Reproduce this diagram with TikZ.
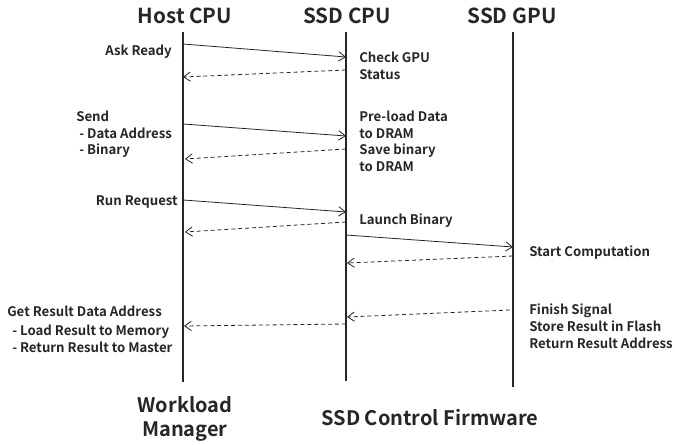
\documentclass[tikz,border=0pt]{standalone}
\usepackage{fontspec}
\setmainfont{Noto Sans CJK KR}[BoldFont={* Bold}]
\usetikzlibrary{arrows.meta}
\begin{document}
\begin{tikzpicture}[x=0.75pt,y=-0.75pt,
  lifeline/.style={line width=1.4pt,draw=black!85},
  call/.style={draw=black!85,line width=0.6pt,-{Straight Barb[length=5pt,width=7pt]}},
  reply/.style={call,dash pattern=on 3pt off 2.2pt},
  title/.style={font=\fontsize{15.5}{18}\selectfont\bfseries,text=black!85},
  note/.style={font=\fontsize{9.9}{12.4}\selectfont\bfseries,text=black!85,inner sep=0pt,align=left},
  footer/.style={font=\fontsize{15}{18}\selectfont\bfseries,text=black!85,align=center}]
\useasboundingbox (0,0) rectangle (675,445);

% participants
\node[title] (host) at (185,16) {Host CPU};
\node[title] (scpu) at (347,16) {SSD CPU};
\node[title] (sgpu) at (512,16) {SSD GPU};

% lifelines
\coordinate (hT) at (183,32);  \coordinate (hB) at (183,382);
\coordinate (cT) at (346,32);  \coordinate (cB) at (346,381);
\coordinate (gT) at (513,32);  \coordinate (gB) at (513,387);
\draw[lifeline] (hT) -- (hB);
\draw[lifeline] (cT) -- (cB);
\draw[lifeline] (gT) -- (gB);

% message end points
\coordinate (h1) at (183,44);  \coordinate (c1) at (346,57);
\coordinate (c1r) at (346,70); \coordinate (h1r) at (183,77);
\coordinate (h2) at (183,124); \coordinate (c2) at (346,136);
\coordinate (c2r) at (346,149);\coordinate (h2r) at (185,159);
\coordinate (h3) at (183,200); \coordinate (c3) at (346,212);
\coordinate (c3r) at (346,222);\coordinate (h3r) at (185,232);
\coordinate (c4) at (346,235); \coordinate (g4) at (513,247);
\coordinate (g4r) at (513,256);\coordinate (c4r) at (347,263);
\coordinate (g5) at (510,310); \coordinate (c5) at (347,317);
\coordinate (c6) at (346,324); \coordinate (h6) at (184,326);

% messages
\draw[call]  (h1) -- (c1);
\draw[reply] (c1r) -- (h1r);
\draw[call]  (h2) -- (c2);
\draw[reply] (c2r) -- (h2r);
\draw[call]  (h3) -- (c3);
\draw[reply] (c3r) -- (h3r);
\draw[call]  (c4) -- (g4);
\draw[reply] (g4r) -- (c4r);
\draw[reply] (g5) -- (c5);
\draw[reply] (c6) -- (h6);

% labels
\node[note,anchor=east] (askready) at (172,52) {Ask Ready};
\node[note,anchor=north west] (send) at (76,111) {Send\\ \ - Data Address\\ \ - Binary};
\node[note,anchor=east] (runreq) at (178,202) {Run Request};
\node[note,anchor=north west] (check) at (359,52) {Check GPU\\Status};
\node[note,anchor=north west] (preload) at (359,111) {Pre-load Data\\to DRAM\\Save binary\\to DRAM};
\node[note,anchor=west] (launch) at (359,221) {Launch Binary};
\node[note,anchor=west] (start) at (529,253) {Start Computation};
\node[note,anchor=north west] (finish) at (529,304) {Finish Signal\\Store Result in Flash\\Return Result Address};
\node[note,anchor=west] (getres) at (7,311) {Get Result Data Address};
\node[note,anchor=north west] (loadres) at (9,325) {\ - Load Result to Memory\\ \ - Return Result to Master};

% groups
\node[footer] (wm) at (185,419) {Workload\\Manager};
\node[footer] (fw) at (430,418) {SSD Control Firmware};
\end{tikzpicture}
\end{document}
